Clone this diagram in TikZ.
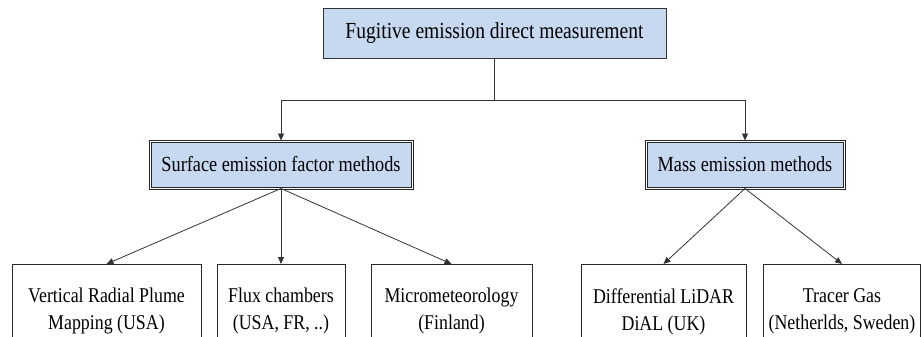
\documentclass[tikz,border=0pt]{standalone}
\usepackage{fontspec}
\setmainfont{Liberation Serif}[FakeStretch=0.85]
\usetikzlibrary{arrows.meta}
\definecolor{boxblue}{RGB}{198,217,241}

\begin{document}
\begin{tikzpicture}[x=1pt,y=-1pt,
	head/.style={draw=black!80, fill=boxblue, line width=0.8pt, minimum height=50pt, font=\fontsize{23}{28}\selectfont},
	group/.style={draw=black!85, fill=boxblue, line width=1pt, double=white, double distance=1pt, minimum height=47pt, font=\fontsize{21.5}{26}\selectfont},
	method/.style={draw=black!85, line width=0.8pt, align=center, anchor=north, minimum height=94pt, inner sep=0pt, font=\fontsize{21}{27}\selectfont},
	arrow/.style={draw=black!80, line width=0.8pt, -{Triangle[length=7pt,width=6pt]}}]
	\clip (0,0) rectangle (922,337);
	% top
	\node[head, minimum width=343pt] (fugitive) at (494.5,33) {Fugitive emission direct measurement};
	% middle
	\node[group, minimum width=262pt] (surface) at (281,164.5) {Surface emission factor methods};
	\node[group, minimum width=198pt] (mass) at (745,164.5) {Mass emission methods};
	% bottom left
	\node[method, minimum width=189pt] (vrpm) at (106.5,264) {Vertical Radial Plume\\Mapping (USA)};
	\node[method, minimum width=128pt] (flux) at (281,264) {Flux chambers\\(USA, FR, ..)};
	\node[method, minimum width=161pt] (micro) at (451.5,264) {Micrometeorology\\(Finland)};
	% bottom right
	\node[method, minimum width=165pt] (dial) at (663.5,264) {Differential  LiDAR\\DiAL (UK)};
	\node[method, minimum width=157pt] (tracer) at (842,264) {Tracer Gas\\(Netherlds, Sweden)};
	% connections
	\draw[arrow] (fugitive.south) -- ++(0,42) -| (surface.north);
	\draw[arrow] (fugitive.south) -- ++(0,42) -| (mass.north);
	\draw[arrow] (surface.south) -- (vrpm.north);
	\draw[arrow] (surface.south) -- (flux.north);
	\draw[arrow] (surface.south) -- (micro.north);
	\draw[arrow] (mass.south) -- (dial.north);
	\draw[arrow] (mass.south) -- (tracer.north);
\end{tikzpicture}
\end{document}
